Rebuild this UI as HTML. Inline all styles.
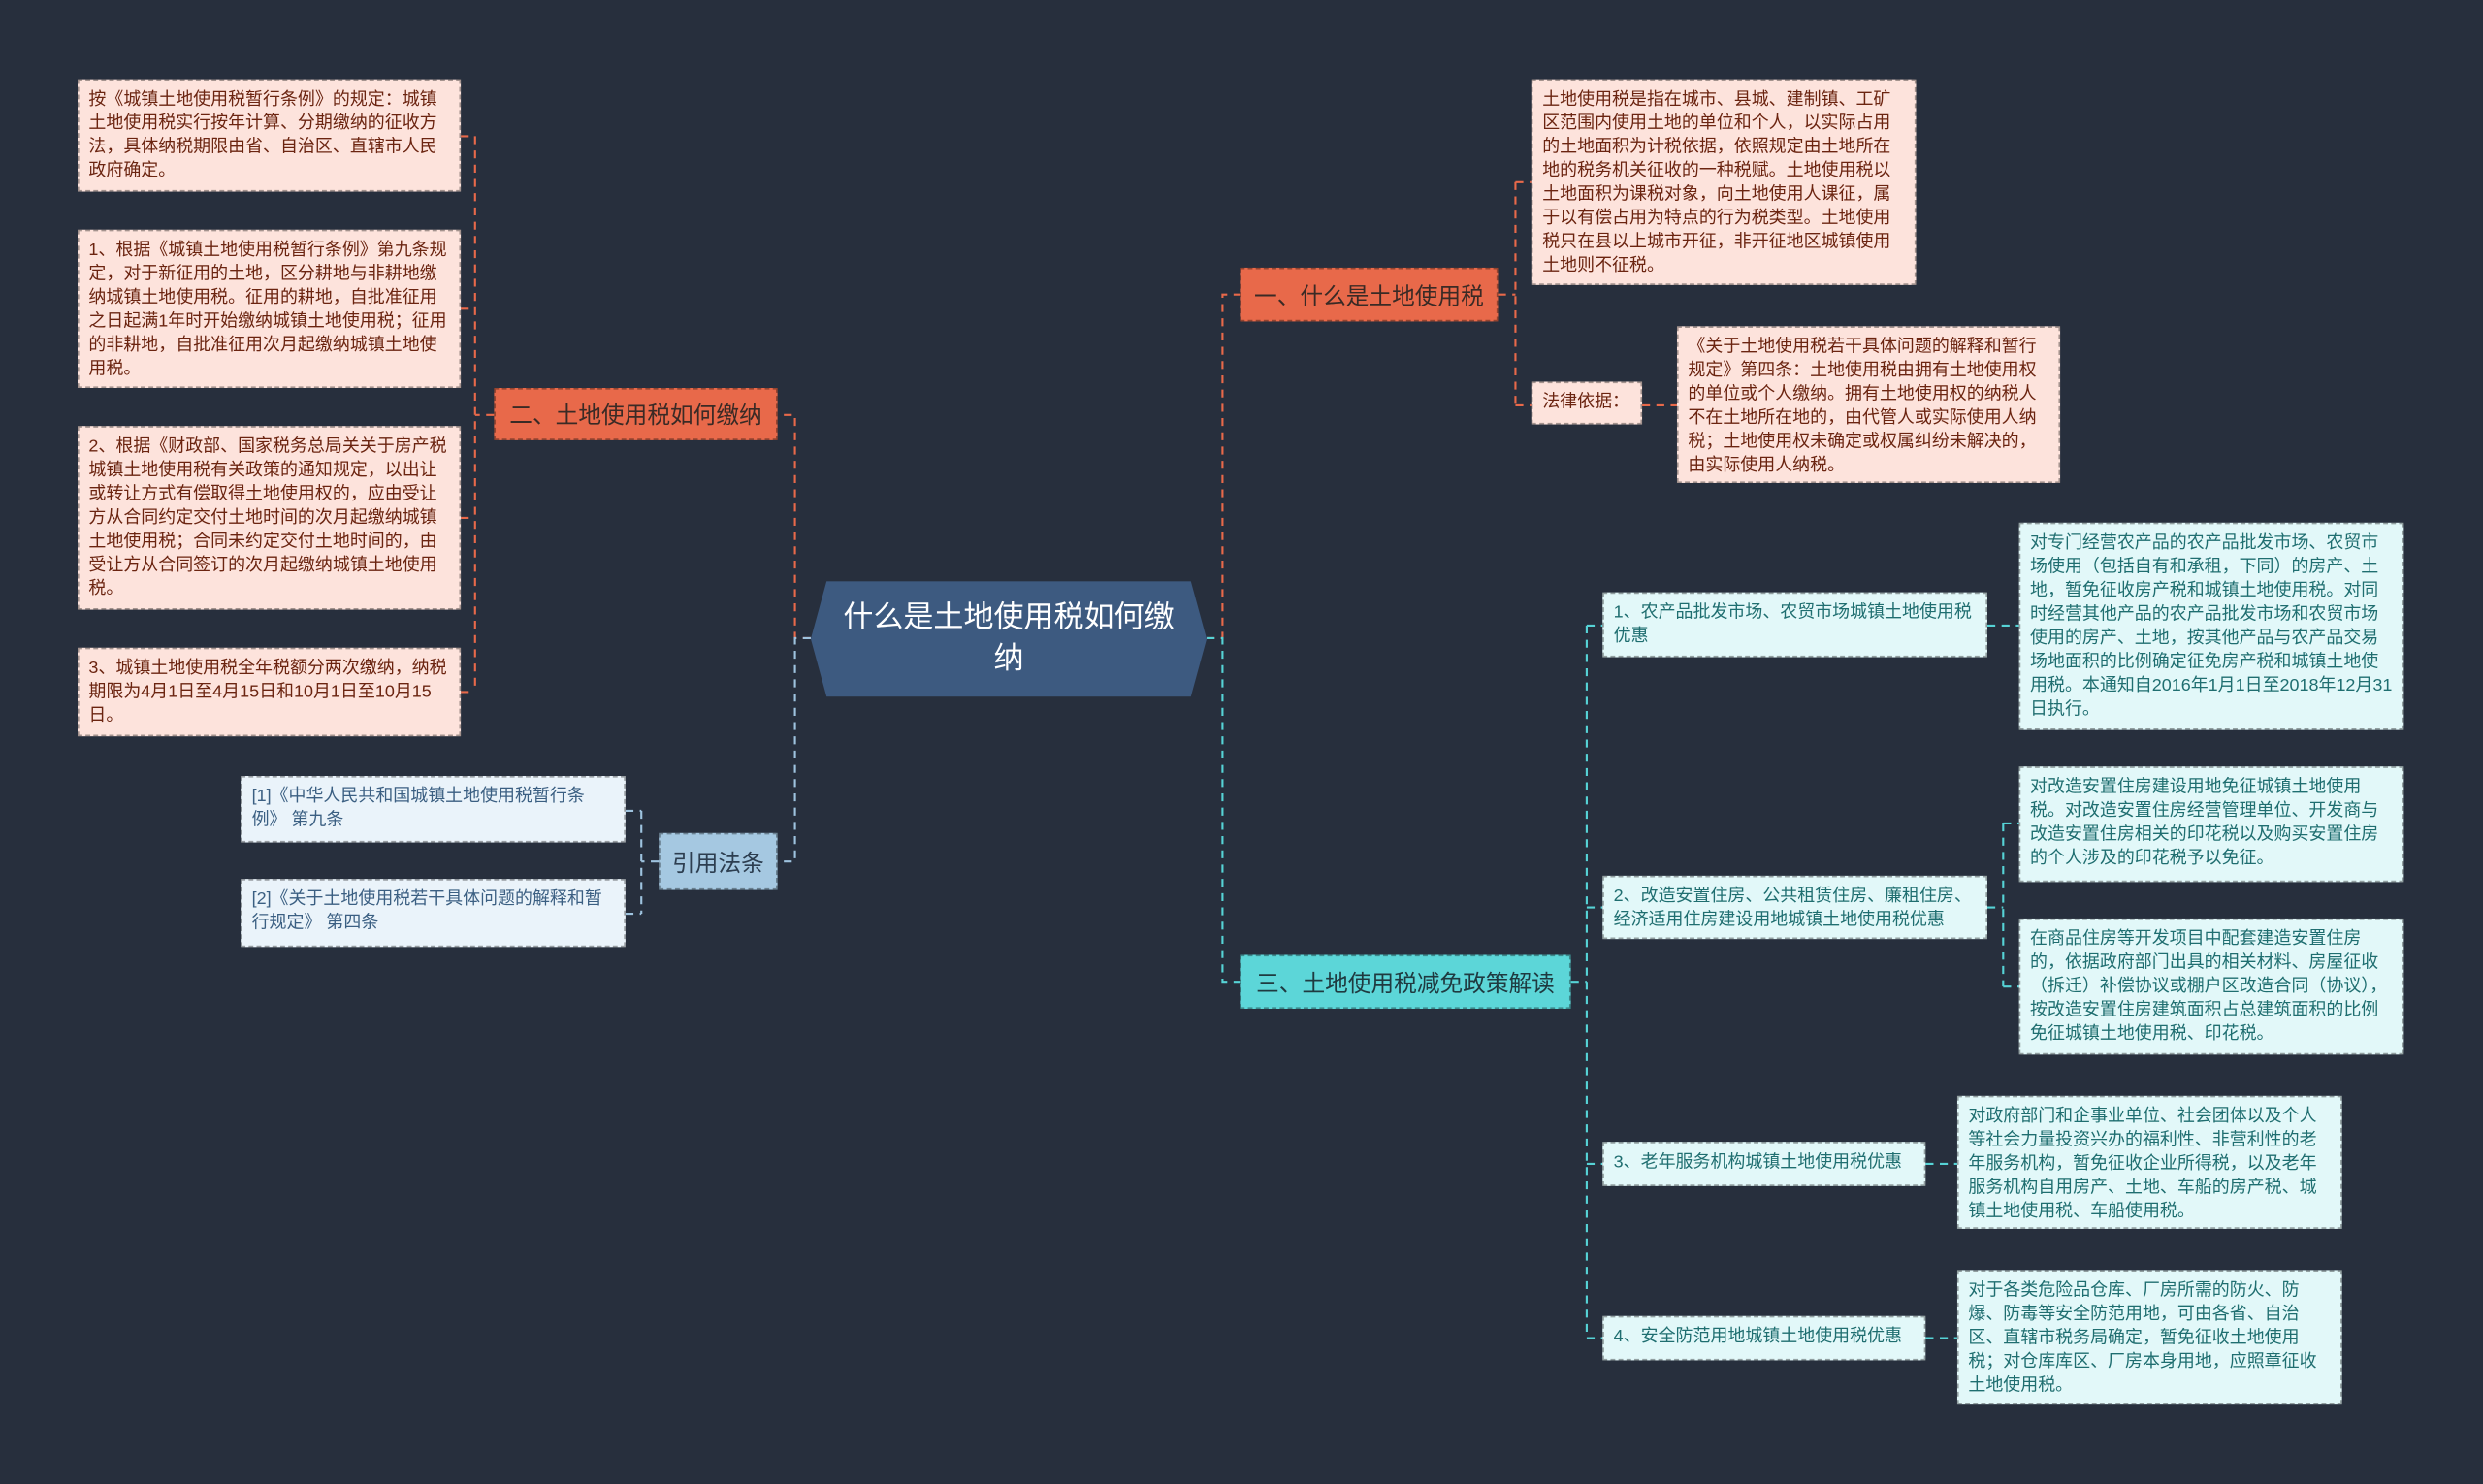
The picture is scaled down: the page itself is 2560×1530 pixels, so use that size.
<!DOCTYPE html>
<html><head><meta charset="utf-8">
<style>
html,body{margin:0;padding:0;background:#272f3d;}
#wrap{position:absolute;left:0;top:0;width:1568px;height:937px;transform:scale(1.63265);transform-origin:0 0;overflow:hidden;background:#272f3d;}
.n{position:absolute;box-sizing:border-box;font-family:"Liberation Sans","Noto Sans CJK SC",sans-serif;border:1px dashed rgba(0,0,0,0.35);}
.p{background:#fde3dc;color:#6b2410;font-size:11px;line-height:15px;padding:5px 6px;}
.c{background:#e2f8f9;color:#1f6e70;font-size:11px;line-height:15px;padding:5px 6px;}
.b{background:#eaf3fa;color:#3b5f82;font-size:11px;line-height:15px;padding:5px 6px;}
.br{font-size:14.5px;display:flex;align-items:center;justify-content:center;white-space:nowrap;}
svg{position:absolute;left:0;top:0;}
</style></head><body><div id="wrap">
<svg width="1568" height="937" fill="none" stroke-width="1.3" stroke-dasharray="5,4">
<g stroke="#e8694a">
<path d="M512 403 H502 V262 H491"/>
<path d="M762 403 H772 V186 H783"/>
<path d="M946 186 H957 M957 115 V256 M957 115 H967 M957 256 H967"/>
<path d="M1037 256 H1059"/>
<path d="M312 262 H300 M300 86 V437 M291 86 H300 M291 195 H300 M291 327 H300 M291 437 H300"/>
</g>
<g stroke="#9ec3df">
<path d="M512 403 H502 V544 H491"/>
<path d="M416 544 H405 M405 512 V577 M395 512 H405 M395 577 H405"/>
</g>
<g stroke="#56d3d6">
<path d="M762 403 H772 V620 H783"/>
<path d="M992 620 H1002 M1002 395 V845 M1002 395 H1012 M1002 573 H1012 M1002 735 H1012 M1002 845 H1012"/>
<path d="M1255 395 H1275"/>
<path d="M1255 573 H1265 M1265 520 V623 M1265 520 H1275 M1265 623 H1275"/>
<path d="M1216 735 H1236 M1216 845 H1236"/>
</g>
</svg>

<div class="n" style="left:512px;top:367px;width:250px;height:73px;border:none;background:#3d5a80;clip-path:polygon(4% 0,96% 0,100% 50%,96% 100%,4% 100%,0 50%);color:#fff;font-size:19px;line-height:26px;display:flex;align-items:center;justify-content:center;text-align:center;padding:0 12px;">什么是土地使用税如何缴纳</div>

<div class="n br" style="left:783px;top:169px;width:163px;height:34px;background:#e8694a;color:#3a2a25;">一、什么是土地使用税</div>
<div class="n p" style="left:967px;top:50px;width:243px;height:130px;">土地使用税是指在城市、县城、建制镇、工矿区范围内使用土地的单位和个人，以实际占用的土地面积为计税依据，依照规定由土地所在地的税务机关征收的一种税赋。土地使用税以土地面积为课税对象，向土地使用人课征，属于以有偿占用为特点的行为税类型。土地使用税只在县以上城市开征，非开征地区城镇使用土地则不征税。</div>
<div class="n p" style="left:967px;top:241px;width:70px;height:27px;">法律依据：</div>
<div class="n p" style="left:1059px;top:206px;width:242px;height:99px;">《关于土地使用税若干具体问题的解释和暂行规定》第四条：土地使用税由拥有土地使用权的单位或个人缴纳。拥有土地使用权的纳税人不在土地所在地的，由代管人或实际使用人纳税；土地使用权未确定或权属纠纷未解决的，由实际使用人纳税。</div>

<div class="n br" style="left:312px;top:245px;width:179px;height:33px;background:#e8694a;color:#3a2a25;">二、土地使用税如何缴纳</div>
<div class="n p" style="left:49px;top:50px;width:242px;height:71px;">按《城镇土地使用税暂行条例》的规定：城镇土地使用税实行按年计算、分期缴纳的征收方法，具体纳税期限由省、自治区、直辖市人民政府确定。</div>
<div class="n p" style="left:49px;top:145px;width:242px;height:100px;">1、根据《城镇土地使用税暂行条例》第九条规定，对于新征用的土地，区分耕地与非耕地缴纳城镇土地使用税。征用的耕地，自批准征用之日起满1年时开始缴纳城镇土地使用税；征用的非耕地，自批准征用次月起缴纳城镇土地使用税。</div>
<div class="n p" style="left:49px;top:269px;width:242px;height:116px;">2、根据《财政部、国家税务总局关关于房产税城镇土地使用税有关政策的通知规定，以出让或转让方式有偿取得土地使用权的，应由受让方从合同约定交付土地时间的次月起缴纳城镇土地使用税；合同未约定交付土地时间的，由受让方从合同签订的次月起缴纳城镇土地使用税。</div>
<div class="n p" style="left:49px;top:409px;width:242px;height:56px;">3、城镇土地使用税全年税额分两次缴纳，纳税期限为4月1日至4月15日和10月1日至10月15日。</div>

<div class="n br" style="left:416px;top:526px;width:75px;height:36px;background:#a5c8e1;color:#2d3e50;">引用法条</div>
<div class="n b" style="left:152px;top:490px;width:243px;height:42px;">[1]《中华人民共和国城镇土地使用税暂行条例》 第九条</div>
<div class="n b" style="left:152px;top:555px;width:243px;height:43px;">[2]《关于土地使用税若干具体问题的解释和暂行规定》 第四条</div>

<div class="n br" style="left:783px;top:603px;width:209px;height:34px;background:#5cd6d8;color:#1f3a40;">三、土地使用税减免政策解读</div>
<div class="n c" style="left:1012px;top:374px;width:243px;height:41px;">1、农产品批发市场、农贸市场城镇土地使用税优惠</div>
<div class="n c" style="left:1012px;top:553px;width:243px;height:40px;">2、改造安置住房、公共租赁住房、廉租住房、经济适用住房建设用地城镇土地使用税优惠</div>
<div class="n c" style="left:1012px;top:721px;width:204px;height:28px;white-space:nowrap;">3、老年服务机构城镇土地使用税优惠</div>
<div class="n c" style="left:1012px;top:831px;width:204px;height:28px;white-space:nowrap;">4、安全防范用地城镇土地使用税优惠</div>
<div class="n c" style="left:1275px;top:330px;width:243px;height:131px;">对专门经营农产品的农产品批发市场、农贸市场使用（包括自有和承租，下同）的房产、土地，暂免征收房产税和城镇土地使用税。对同时经营其他产品的农产品批发市场和农贸市场使用的房产、土地，按其他产品与农产品交易场地面积的比例确定征免房产税和城镇土地使用税。本通知自2016年1月1日至2018年12月31日执行。</div>
<div class="n c" style="left:1275px;top:484px;width:243px;height:73px;">对改造安置住房建设用地免征城镇土地使用税。对改造安置住房经营管理单位、开发商与改造安置住房相关的印花税以及购买安置住房的个人涉及的印花税予以免征。</div>
<div class="n c" style="left:1275px;top:580px;width:243px;height:86px;">在商品住房等开发项目中配套建造安置住房的，依据政府部门出具的相关材料、房屋征收（拆迁）补偿协议或棚户区改造合同（协议），按改造安置住房建筑面积占总建筑面积的比例免征城镇土地使用税、印花税。</div>
<div class="n c" style="left:1236px;top:692px;width:243px;height:84px;">对政府部门和企事业单位、社会团体以及个人等社会力量投资兴办的福利性、非营利性的老年服务机构，暂免征收企业所得税，以及老年服务机构自用房产、土地、车船的房产税、城镇土地使用税、车船使用税。</div>
<div class="n c" style="left:1236px;top:802px;width:243px;height:85px;">对于各类危险品仓库、厂房所需的防火、防爆、防毒等安全防范用地，可由各省、自治区、直辖市税务局确定，暂免征收土地使用税；对仓库库区、厂房本身用地，应照章征收土地使用税。</div>
</div></body></html>
